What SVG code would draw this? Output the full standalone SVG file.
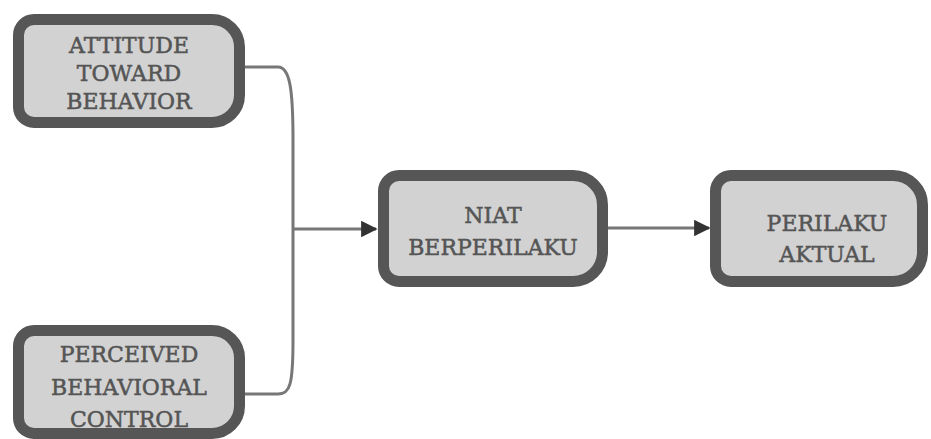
<svg xmlns="http://www.w3.org/2000/svg" width="931" height="439" viewBox="0 0 931 439">
<style>
.box{fill:#d2d2d2;stroke:#565656;stroke-width:11;}
.lbl{font-family:"DejaVu Serif","Liberation Serif",serif;font-size:22px;fill:#555;stroke:#555;stroke-width:0.5;text-anchor:middle;}
.con{fill:none;stroke:#777;stroke-width:3;}
</style>
<defs>
<marker id="ah" viewBox="0 0 10 10" refX="9" refY="5" markerWidth="5.5" markerHeight="5.5" orient="auto" markerUnits="strokeWidth">
<path d="M0,0 L10,5 L0,10 z" fill="#333"/>
</marker>
</defs>
<rect width="931" height="439" fill="#fff"/>
<g id="connectors">
<path class="con" d="M245,67 H278 C290,67 293,90 293,140 V340 C293,385 290,394 278,394 H245"/>
<path class="con" d="M293,229 H376" marker-end="url(#ah)"/>
<path class="con" d="M608,228 H709" marker-end="url(#ah)"/>
</g>
<g id="attitude">
<path class="box" d="M34,19.5 H212 A27.5,27.5 0 0 1 239.5,47 V95 A27.5,27.5 0 0 1 212,122.5 H34 A15.5,15.5 0 0 1 18.5,107 V35 A15.5,15.5 0 0 1 34,19.5 Z"/>
<text class="lbl" x="129" y="53">ATTITUDE</text>
<text class="lbl" x="129" y="81">TOWARD</text>
<text class="lbl" x="129" y="109">BEHAVIOR</text>
</g>
<g id="perceived">
<path class="box" d="M34,330.5 H212 A27.5,27.5 0 0 1 239.5,358 V406 A27.5,27.5 0 0 1 212,433.5 H34 A15.5,15.5 0 0 1 18.5,418 V346 A15.5,15.5 0 0 1 34,330.5 Z"/>
<text class="lbl" x="129" y="362">PERCEIVED</text>
<text class="lbl" x="129" y="395">BEHAVIORAL</text>
<text class="lbl" x="129" y="427">CONTROL</text>
</g>
<g id="niat">
<path class="box" d="M399,175.5 H573 A29.5,29.5 0 0 1 602.5,205 V252 A29.5,29.5 0 0 1 573,281.5 H399 A15.5,15.5 0 0 1 383.5,266 V191 A15.5,15.5 0 0 1 399,175.5 Z"/>
<text class="lbl" x="493" y="223">NIAT</text>
<text class="lbl" x="493" y="255">BERPERILAKU</text>
</g>
<g id="perilaku">
<path class="box" d="M731,175.5 H893 A29.5,29.5 0 0 1 922.5,205 V252 A29.5,29.5 0 0 1 893,281.5 H731 A15.5,15.5 0 0 1 715.5,266 V191 A15.5,15.5 0 0 1 731,175.5 Z"/>
<text class="lbl" x="827" y="231">PERILAKU</text>
<text class="lbl" x="827" y="262">AKTUAL</text>
</g>
</svg>
